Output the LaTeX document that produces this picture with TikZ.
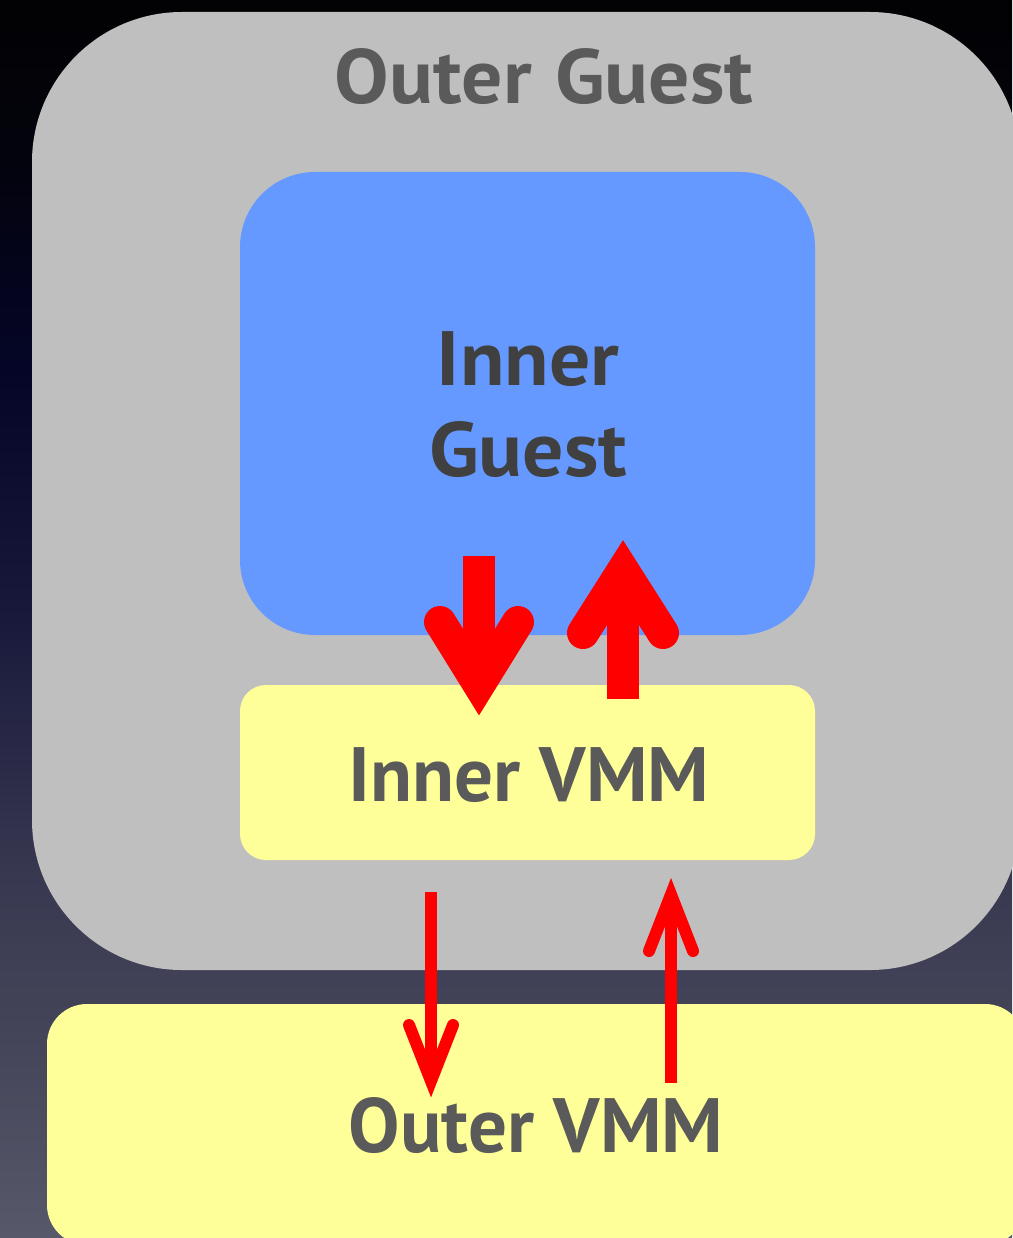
\documentclass[tikz,border=0pt]{standalone}
\usepackage{fontspec}
\newfontfamily\lblfont{PT Sans}
\newfontfamily\lblwide{PT Sans}[FakeStretch=1.06]
\definecolor{gguest}{RGB}{191,191,191}
\definecolor{bguest}{RGB}{102,153,255}
\definecolor{yvmm}{RGB}{255,255,153}
\definecolor{txtA}{RGB}{90,90,90}
\definecolor{txtB}{RGB}{64,64,64}
\pgfdeclareverticalshading{bgshade}{100bp}{%
  rgb(0bp)=(0.345,0.345,0.42);
  rgb(25bp)=(0.345,0.345,0.42);
  rgb(32.5bp)=(0.275,0.275,0.353);
  rgb(40bp)=(0.216,0.216,0.314);
  rgb(50bp)=(0.098,0.098,0.235);
  rgb(60bp)=(0.02,0.02,0.157);
  rgb(69bp)=(0.012,0.012,0.047);
  rgb(75bp)=(0.008,0.008,0.016);
  rgb(100bp)=(0.008,0.008,0.016)}
\tikzset{
  box/.style={rectangle, inner sep=0pt, draw=none},
  lbl/.style={inner sep=0pt, font=\lblfont\bfseries\fontsize{77}{91}\selectfont},
  lblw/.style={inner sep=0pt, font=\lblwide\bfseries\fontsize{77}{91}\selectfont},
  bigshaft/.style={draw=red, line width=32pt},
  bighead/.style={draw=red, line width=32pt, line cap=round, line join=miter},
  smallshaft/.style={draw=red, line width=12pt},
  smallhead/.style={draw=red, line width=12pt, line cap=round, line join=miter},
}
\begin{document}
\begin{tikzpicture}[x=1pt,y=-1pt]
\useasboundingbox (0,0) rectangle (1012,1238);
\shade[shading=bgshade] (0,0) rectangle (1012,1238);
% boxes
\node[box, fill=gguest, rounded corners=150pt, minimum width=988pt, minimum height=958pt] (og) at (526,491) {};
\node[box, fill=yvmm, rounded corners=40pt, minimum width=978pt, minimum height=241pt] (ovmm) at (536,1124.5) {};
\node[box, fill=bguest, rounded corners=75pt, minimum width=575pt, minimum height=463pt] (ig) at (527.5,403.5) {};
\node[box, fill=yvmm, rounded corners=26pt, minimum width=575pt, minimum height=175pt] (ivmm) at (527.5,772.5) {};
% labels
\node[lblw, text=txtA, anchor=base] (ogl) at (544,104) {Outer\ \hspace{3pt}Guest};
\node[lblw, text=txtB, align=center] (igl) at (528,405) {Inner\\Guest};
\node[lbl, text=txtA, anchor=base] (ivmml) at (529,801) {Inner VMM};
\node[lbl, text=txtA, anchor=base] (ovmml) at (536,1152) {Outer VMM};
% arrow coordinates
\coordinate (d1s) at (479,556);
\coordinate (d1t) at (479,685);
\coordinate (d1l) at (440,622);
\coordinate (d1r) at (518,622);
\coordinate (u1s) at (623,699);
\coordinate (u1t) at (623,570);
\coordinate (u1l) at (583,633);
\coordinate (u1r) at (663,633);
\coordinate (d2s) at (431,892);
\coordinate (d2t) at (431,1081);
\coordinate (d2l) at (409,1025);
\coordinate (d2r) at (453,1025);
\coordinate (u2s) at (671,1083);
\coordinate (u2t) at (671,894.5);
\coordinate (u2l) at (649,951);
\coordinate (u2r) at (693,951);
% arrows: inner guest <-> inner VMM
\draw[bigshaft] (d1s) -- (d1t);
\draw[bighead] (d1l) -- (d1t) -- (d1r);
\draw[bigshaft] (u1s) -- (u1t);
\draw[bighead] (u1l) -- (u1t) -- (u1r);
% arrows: inner VMM <-> outer VMM
\draw[smallshaft] (d2s) -- (d2t);
\draw[smallhead] (d2l) -- (d2t) -- (d2r);
\draw[smallshaft] (u2s) -- (u2t);
\draw[smallhead] (u2l) -- (u2t) -- (u2r);
\end{tikzpicture}
\end{document}
